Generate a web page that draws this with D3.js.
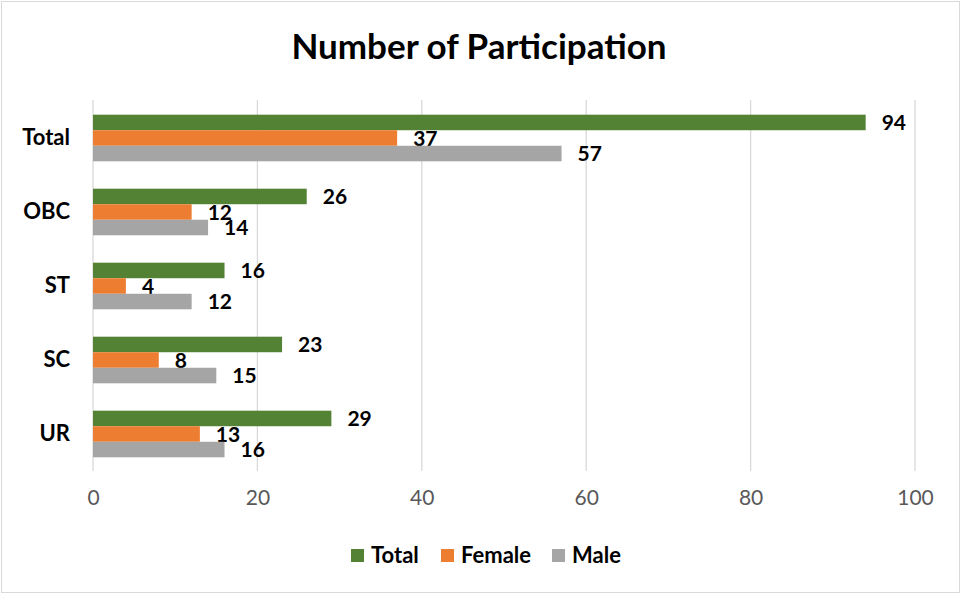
<!DOCTYPE html>
<html>
<head>
<meta charset="utf-8">
<script src="https://cdn.jsdelivr.net/npm/d3@7"></script>
<style>
    body { margin: 0; background: #fff; }
    svg { display: block; font-family: Lato, "Open Sans", sans-serif; }
</style>
</head>
<body>
<div id="chart"></div>
<script>
// chart data
var categories = ["Total", "OBC", "ST", "SC", "UR"];
var seriesNames = ["Total", "Female", "Male"];
var totalValues = [94, 26, 16, 23, 29];
var femaleValues = [37, 12, 4, 8, 13];
var maleValues = [57, 14, 12, 15, 16];
var xTicks = [0, 20, 40, 60, 80, 100];
var colors = ["#548235", "#ED7D31", "#A5A5A5"];

var width = 961, height = 594;
var seriesValues = [totalValues, femaleValues, maleValues];

var svg = d3.select("#chart").append("svg")
    .attr("width", width)
    .attr("height", height);

// chart border
svg.append("rect")
    .attr("x", 1.5).attr("y", 1.5)
    .attr("width", width - 3).attr("height", height - 3)
    .attr("fill", "#fff")
    .attr("stroke", "#d9d9d9");

svg.append("text")
    .attr("x", 479).attr("y", 59)
    .attr("text-anchor", "middle")
    .attr("font-size", 35)
    .attr("font-weight", "bold")
    .attr("fill", "#000")
    .text("Number of Participation");

var x = d3.scaleLinear().domain([0, 100]).range([93, 915]);
var y = d3.scaleBand().domain(categories).range([101, 471])
    .paddingInner(0.37).paddingOuter(0.185);
var ySub = d3.scaleBand().domain(seriesNames).range([0, y.bandwidth()]);

// gridlines
svg.append("g").selectAll("line")
    .data(xTicks)
    .enter().append("line")
    .attr("x1", function(d) { return x(d); })
    .attr("x2", function(d) { return x(d); })
    .attr("y1", 100).attr("y2", 471)
    .attr("stroke", "#d9d9d9")
    .attr("stroke-width", 1.3);

// x axis labels
var xAxis = d3.axisBottom(x).tickValues(xTicks).tickSize(0).tickPadding(0);
var gx = svg.append("g").attr("transform", "translate(0,490)").call(xAxis);
gx.select(".domain").remove();
gx.selectAll("text")
    .attr("font-family", "Lato, sans-serif")
    .attr("font-size", 21)
    .attr("fill", "#595959");

// category labels
var yAxis = d3.axisLeft(y).tickSize(0).tickPadding(23);
var gy = svg.append("g").attr("transform", "translate(93,0)").call(yAxis);
gy.select(".domain").remove();
gy.selectAll("text")
    .attr("font-family", "Lato, sans-serif")
    .attr("font-size", 22)
    .attr("font-weight", "bold")
    .attr("fill", "#000");

// bars and labels
seriesNames.forEach(function(name, si) {
    var rows = categories.map(function(c, i) { return { cat: c, value: seriesValues[si][i] }; });
    var g = svg.append("g");
    g.selectAll("rect")
        .data(rows)
        .enter().append("rect")
        .attr("x", x(0))
        .attr("y", function(d) { return y(d.cat) + ySub(name); })
        .attr("width", function(d) { return x(d.value) - x(0); })
        .attr("height", ySub.bandwidth())
        .attr("fill", colors[si]);
    g.selectAll("text")
        .data(rows)
        .enter().append("text")
        .attr("x", function(d) { return x(d.value) + 16; })
        .attr("y", function(d) { return y(d.cat) + ySub(name) + ySub.bandwidth() / 2; })
        .attr("dy", "0.36em")
        .attr("font-size", 21)
        .attr("font-weight", "bold")
        .attr("fill", "#000")
        .text(function(d) { return d.value; });
});

// legend
var legendX = [351, 441, 552];
var legend = svg.append("g").selectAll("g")
    .data(seriesNames)
    .enter().append("g")
    .attr("transform", function(d, i) { return "translate(" + legendX[i] + ",549)"; });
legend.append("rect")
    .attr("width", 13).attr("height", 13)
    .attr("fill", function(d, i) { return colors[i]; });
legend.append("text")
    .attr("x", 20).attr("y", 6.5)
    .attr("dy", "0.36em")
    .attr("font-size", 22)
    .attr("font-weight", "bold")
    .attr("fill", "#000")
    .text(function(d) { return d; });
</script>
</body>
</html>
